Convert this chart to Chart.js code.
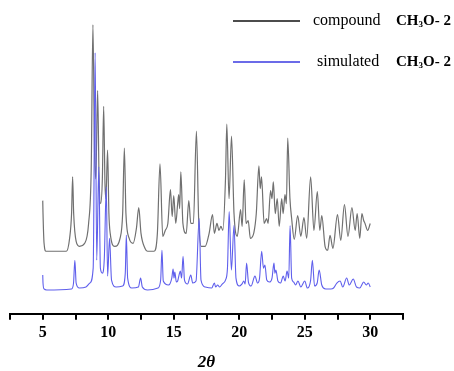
<!DOCTYPE html>
<html>
<head>
<meta charset="utf-8">
<script src="https://cdn.jsdelivr.net/npm/chart.js@4/dist/chart.umd.min.js"></script>
<style>
  html, body { margin: 0; padding: 0; background: #fff; }
  #wrap { width: 454px; height: 371px; }
</style>
</head>
<body>
<div id="wrap"><canvas id="xrdChart" width="454" height="371"></canvas></div>
<script>
// 2-theta positions and relative intensities (arbitrary units, offset traces)
var compoundX = [5.0, 5.02, 5.1, 5.25, 6.8, 7.05, 7.2, 7.28, 7.36, 7.55, 7.8, 8.2, 8.5, 8.7, 8.83, 8.95, 9.05, 9.19, 9.3, 9.42,
    9.55, 9.65, 9.75, 9.82, 9.95, 10.05, 10.15, 10.5, 10.9, 11.1, 11.23, 11.35, 11.6, 11.9, 12.15, 12.33, 12.5, 12.8, 13.0, 13.5,
    13.75, 13.95, 14.16, 14.35, 14.55, 14.75, 14.88, 15.0, 15.15, 15.3, 15.38, 15.45, 15.54, 15.7, 15.95, 16.15, 16.3, 16.5, 16.73, 16.9,
    17.1, 17.4, 17.7, 17.96, 18.1, 18.3, 18.45, 18.6, 18.75, 18.95, 19.05, 19.22, 19.41, 19.6, 19.85, 20.1, 20.22, 20.38, 20.52, 20.68,
    20.85, 21.12, 21.3, 21.5, 21.6, 21.7, 21.9, 22.09, 22.2, 22.39, 22.5, 22.6, 22.75, 22.9, 23.05, 23.24, 23.35, 23.49, 23.6, 23.7,
    23.87, 24.0, 24.2, 24.46, 24.7, 24.94, 25.15, 25.45, 25.7, 25.96, 26.15, 26.3, 26.55, 26.75, 26.93, 27.15, 27.5, 27.75, 28.03, 28.3,
    28.6, 28.85, 29.0, 29.2, 29.36, 29.5, 29.6, 29.8, 30.0];
var compoundY = [114, 101, 71, 63, 63, 76, 101, 138, 101, 73, 68, 71, 91, 146, 291, 166, 136, 225, 136, 111,
    136, 209, 131, 116, 165, 101, 81, 68, 76, 101, 167, 101, 76, 71, 86, 107, 81, 66, 63, 63,
    81, 151, 78, 84, 91, 125, 98, 119, 91, 111, 120, 106, 143, 91, 81, 114, 91, 91, 184, 96,
    68, 68, 81, 100, 81, 91, 84, 88, 84, 136, 191, 116, 179, 101, 78, 105, 88, 135, 91, 94,
    76, 82, 101, 149, 126, 138, 91, 96, 91, 124, 116, 133, 101, 116, 88, 116, 101, 120, 111, 177,
    116, 96, 75, 99, 78, 97, 76, 138, 84, 123, 84, 99, 68, 64, 79, 66, 100, 74, 110, 78,
    107, 84, 101, 76, 101, 94, 91, 84, 91];

var simulatedX = [5.0, 5.02, 5.1, 5.3, 7.2, 7.35, 7.45, 7.55, 7.8, 8.3, 8.6, 8.85, 9.0, 9.12, 9.28, 9.4, 9.55, 9.7, 9.85, 9.95,
    10.1, 10.25, 10.6, 11.1, 11.3, 11.38, 11.48, 11.8, 12.3, 12.47, 12.6, 13.0, 13.8, 14.0, 14.1, 14.2, 14.6, 14.85, 14.95, 15.02,
    15.08, 15.2, 15.3, 15.42, 15.5, 15.6, 15.71, 15.82, 16.05, 16.3, 16.45, 16.7, 16.94, 17.08, 17.4, 17.9, 18.1, 18.2, 18.35, 18.5,
    18.7, 18.95, 19.1, 19.23, 19.4, 19.6, 19.75, 20.0, 20.2, 20.35, 20.45, 20.56, 20.7, 20.9, 21.2, 21.4, 21.55, 21.71, 21.85, 21.96,
    22.1, 22.3, 22.5, 22.65, 22.72, 22.8, 22.95, 23.15, 23.36, 23.5, 23.65, 23.78, 23.88, 24.0, 24.15, 24.3, 24.48, 24.7, 25.0, 25.2,
    25.45, 25.58, 25.75, 25.95, 26.1, 26.3, 26.6, 27.0, 27.2, 27.45, 27.7, 27.9, 28.2, 28.4, 28.7, 28.95, 29.2, 29.5, 29.7, 29.85,
    30.0];
var simulatedY = [39, 31, 25, 24, 25, 31, 54, 31, 26, 27, 31, 46, 263, 54, 148, 46, 41, 56, 128, 38,
    76, 34, 27, 28, 41, 79, 36, 26, 27, 36, 27, 24, 26, 34, 64, 33, 29, 36, 45, 36,
    42, 32, 33, 40, 43, 36, 58, 34, 30, 39, 31, 33, 96, 34, 27, 26, 31, 27, 29, 27,
    30, 34, 46, 103, 44, 89, 36, 28, 30, 33, 30, 51, 32, 28, 38, 31, 36, 63, 46, 49,
    34, 32, 36, 51, 41, 44, 33, 31, 38, 33, 43, 36, 89, 36, 32, 29, 33, 27, 33, 26,
    34, 54, 28, 31, 44, 29, 25, 25, 26, 31, 33, 27, 36, 29, 35, 27, 26, 32, 29, 31,
    27];

var tickLabels = [5, 10, 15, 20, 25, 30];
var legendNames = ['compound', 'simulated'];
var legendColors = ['#111111', '#3a3ae0'];

function toPoints(xs, ys) {
    return xs.map(function (x, i) { return { x: x, y: ys[i] }; });
}

// legend drawn by hand so the formula can carry a subscript
var legendPlugin = {
    id: 'sideLegend',
    afterDraw: function (chart) {
        var ctx = chart.ctx;
        ctx.save();
        legendNames.forEach(function (name, i) {
            var y = 21 + i * 41;
            ctx.strokeStyle = legendColors[i];
            ctx.lineWidth = 1.5;
            ctx.beginPath();
            ctx.moveTo(233, y);
            ctx.lineTo(300, y);
            ctx.stroke();

            ctx.fillStyle = '#000';
            ctx.textBaseline = 'middle';
            ctx.font = '16px "Liberation Serif"';
            var tx = i === 0 ? 313 : 317;
            ctx.fillText(name, tx, y);

            var fx = 396;
            ctx.font = 'bold 15px "Liberation Serif"';
            ctx.fillText('CH', fx, y);
            fx += ctx.measureText('CH').width;
            ctx.font = 'bold 9px "Liberation Serif"';
            ctx.fillText('3', fx, y + 4);
            fx += ctx.measureText('3').width;
            ctx.font = 'bold 15px "Liberation Serif"';
            ctx.fillText('O- 2', fx, y);
        });
        ctx.restore();
    }
};

var ctx = document.getElementById('xrdChart').getContext('2d');
var chart = new Chart(ctx, {
    type: 'line',
    data: {
        datasets: [{
            label: 'compound CH3O-2',
            data: toPoints(compoundX, compoundY),
            borderColor: '#707070',
            borderWidth: 1.2,
            pointRadius: 0,
            cubicInterpolationMode: 'monotone',
            fill: false,
            order: 2
        }, {
            label: 'simulated CH3O-2',
            data: toPoints(simulatedX, simulatedY),
            borderColor: '#5f5fec',
            borderWidth: 1.1,
            pointRadius: 0,
            cubicInterpolationMode: 'monotone',
            fill: false,
            order: 1
        }]
    },
    options: {
        responsive: false,
        animation: false,
        layout: { padding: { left: 10, right: 51, top: 16, bottom: 0 } },
        plugins: {
            legend: { display: false },
            tooltip: { enabled: false }
        },
        scales: {
            x: {
                type: 'linear',
                min: 2.5,
                max: 32.5,
                border: { display: true, color: '#000', width: 2 },
                grid: {
                    display: true,
                    drawOnChartArea: false,
                    drawTicks: true,
                    tickLength: 6,
                    color: '#000',
                    lineWidth: 2
                },
                ticks: {
                    stepSize: 2.5,
                    padding: 3,
                    maxRotation: 0,
                    autoSkip: false,
                    color: '#000',
                    font: { family: '"Liberation Serif"', size: 16, weight: 'bold' },
                    callback: function (value) {
                        return tickLabels.indexOf(value) !== -1 ? String(value) : '';
                    }
                },
                title: {
                    display: true,
                    text: '2θ',
                    color: '#000',
                    padding: { top: 9, bottom: 0 },
                    font: { family: '"Liberation Serif"', size: 17, weight: 'bold', style: 'italic', lineHeight: 1 }
                }
            },
            y: {
                display: false,
                min: 0,
                max: 300
            }
        }
    },
    plugins: [legendPlugin]
});
</script>
</body>
</html>
